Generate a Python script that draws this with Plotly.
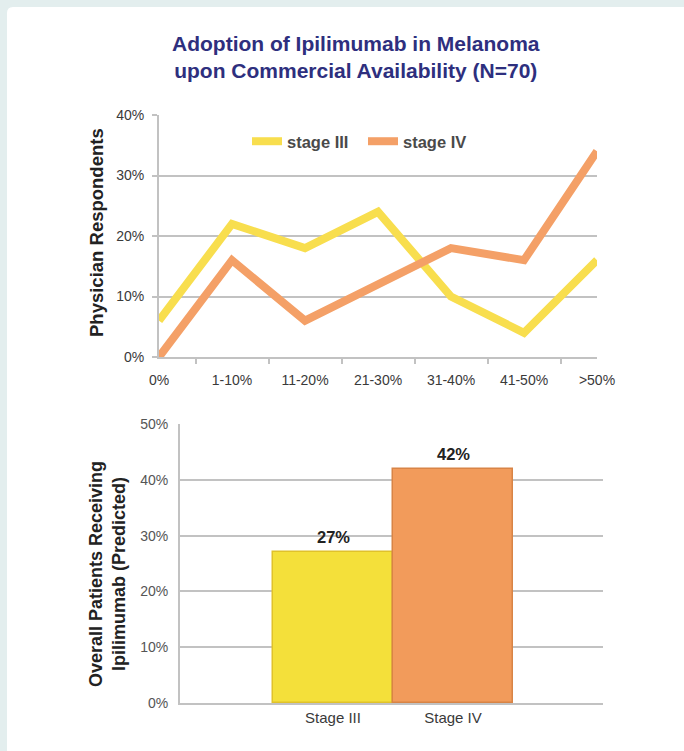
import plotly.graph_objects as go

W, H = 684, 751

categories = ["0%", "1-10%", "11-20%", "21-30%", "31-40%", "41-50%", ">50%"]
stage3 = [6, 22, 18, 24, 10, 4, 16]
stage4 = [0, 16, 6, 12, 18, 16, 34]
top_yticks = [0, 10, 20, 30, 40]

bar_cats = ["Stage III", "Stage IV"]
bar_vals = [27, 42]
bot_yticks = [0, 10, 20, 30, 40, 50]

YEL = "#F8DE4E"
ORA = "#F4A067"
FONT = "Liberation Sans, Arial, sans-serif"

def px(x):
    return x / W

def py(y):
    return 1 - y / H

fig = go.Figure()

fig.add_trace(go.Scatter(x=categories, y=stage3, mode="lines", name="stage III",
                         line=dict(color=YEL, width=8), xaxis="x", yaxis="y"))
fig.add_trace(go.Scatter(x=categories, y=stage4, mode="lines", name="stage IV",
                         line=dict(color=ORA, width=8), xaxis="x", yaxis="y"))

fig.add_trace(go.Bar(x=bar_cats, y=bar_vals, width=1.0,
                     marker=dict(color=["#F4E03A", "#F29B5B"],
                                 line=dict(color=["#E0C22A", "#D88446"], width=1.5)),
                     showlegend=False, xaxis="x2", yaxis="y2"))

grid = "#C2C2C2"
tickfont = dict(family=FONT, size=14, color="#3A3A3A")

fig.update_layout(
    template="none",
    width=W, height=H, autosize=False,
    margin=dict(l=0, r=0, t=0, b=0, pad=0, autoexpand=False),
    paper_bgcolor="#E3EEEE",
    plot_bgcolor="rgba(0,0,0,0)",
    font=dict(family=FONT),
    showlegend=True,
    legend=dict(orientation="h", x=px(247), y=py(124), xanchor="left", yanchor="top",
                bgcolor="rgba(0,0,0,0)",
                font=dict(family=FONT, size=16.5, color="#4A4A4A", weight="bold"),
                itemwidth=30, tracegroupgap=0, entrywidth=71, entrywidthmode="pixels"),
    xaxis=dict(domain=[px(159), px(597)], anchor="y", type="category", automargin=False,
               showgrid=False, showline=True, linecolor=grid, linewidth=2,
               ticks="outside", tickson="boundaries", ticklen=5, tickcolor=grid,
               tickwidth=1.5, tickfont=tickfont, ticklabelstandoff=9, fixedrange=True),
    yaxis=dict(domain=[py(357), py(115)], anchor="x", range=[0, 40], automargin=False,
               tickvals=top_yticks, ticktext=[f"{v}%" for v in top_yticks],
               showgrid=True, gridcolor=grid, gridwidth=2,
               showline=True, linecolor=grid, linewidth=2,
               ticks="outside", ticklen=5, tickcolor=grid, tickwidth=1.5,
               tickfont=tickfont, ticklabelstandoff=5, zeroline=False),
    xaxis2=dict(domain=[px(180), px(603)], anchor="y2", type="category", automargin=False,
                range=[-1.275, 2.25], showgrid=False, showline=True,
                linecolor=grid, linewidth=2, ticks="",
                tickfont=dict(family=FONT, size=15, color="#3A3A3A")),
    yaxis2=dict(domain=[py(703), py(424)], anchor="x2", range=[0, 50], automargin=False,
                tickvals=bot_yticks, ticktext=[f"{v}%" for v in bot_yticks],
                showgrid=True, gridcolor=grid, gridwidth=2,
                showline=True, linecolor=grid, linewidth=2, ticks="",
                tickfont=dict(family=FONT, size=14, color="#555555"),
                ticklabelstandoff=7, zeroline=False),
    bargap=0,
)

# white card
fig.add_shape(type="path", xref="paper", yref="paper", layer="below",
              path=f"M {px(7)},{py(H+5)} L {px(7)},{py(13)} Q {px(7)},{py(7)} {px(13)},{py(7)} "
                   f"L {px(W+5)},{py(7)} L {px(W+5)},{py(H+5)} Z",
              fillcolor="white", line=dict(width=0))

ann = []
ann.append(dict(text="<b>Adoption of Ipilimumab in Melanoma<br>upon Commercial Availability (N=70)</b>",
                x=px(356), y=py(57), xref="paper", yref="paper", showarrow=False,
                font=dict(family=FONT, size=21, color="#2E2F7E"), align="center",
                xanchor="center", yanchor="middle"))
ann.append(dict(text="<b>Physician Respondents</b>", x=px(97), y=py(233),
                xref="paper", yref="paper", showarrow=False, textangle=-90,
                font=dict(family=FONT, size=18.5, color="#222222"),
                xanchor="center", yanchor="middle"))
ann.append(dict(text="<b>Overall Patients Receiving<br>Ipilimumab (Predicted)</b>",
                x=px(107), y=py(574), xref="paper", yref="paper", showarrow=False,
                textangle=-90, font=dict(family=FONT, size=18, color="#222222"),
                xanchor="center", yanchor="middle", align="center"))
for c, v in zip(bar_cats, bar_vals):
    ann.append(dict(text=f"<b>{v}%</b>", x=c, y=v, xref="x2", yref="y2",
                    showarrow=False, yshift=15, yanchor="middle",
                    font=dict(family=FONT, size=16.5, color="#222222")))
fig.update_layout(annotations=ann)

fig.write_html("out.html", config={"displayModeBar": False},
               post_script="document.body.style.margin='0';document.body.style.overflow='hidden';")
